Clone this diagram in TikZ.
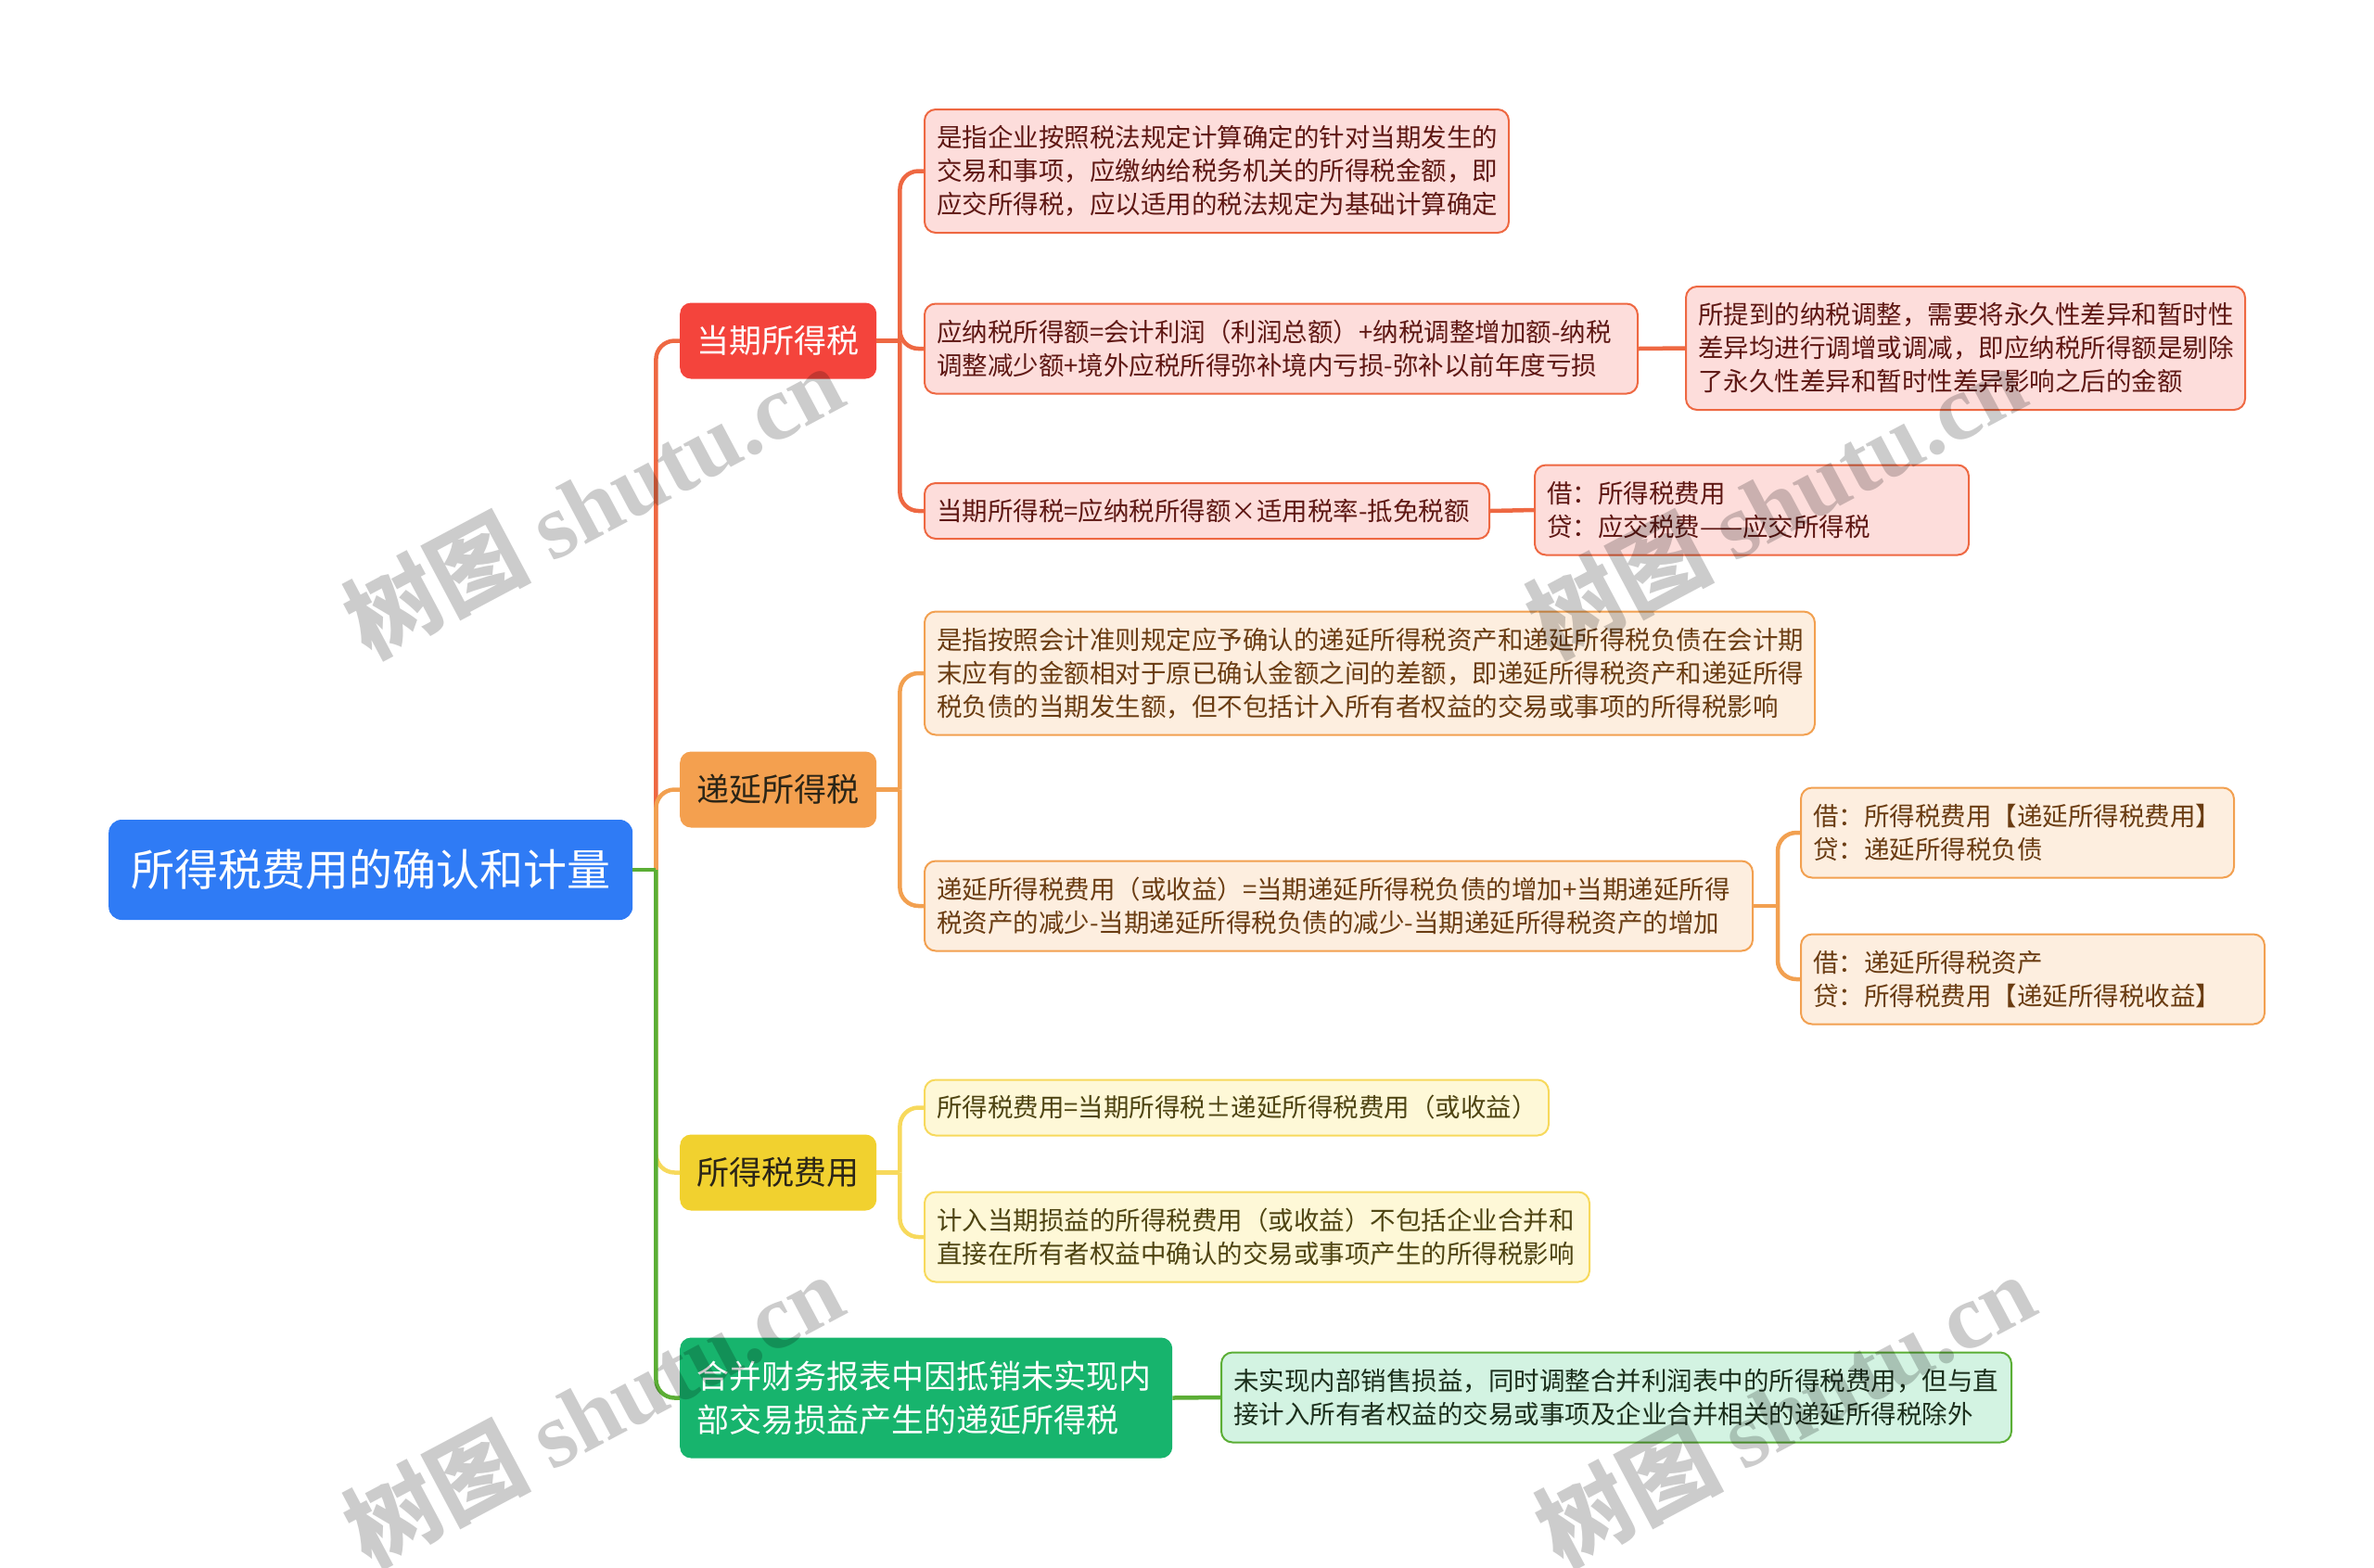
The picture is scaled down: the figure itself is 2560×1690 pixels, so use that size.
\documentclass[tikz,border=0pt]{standalone}
\usepackage{fontspec}
\setmainfont{Noto Sans CJK SC}
\newfontfamily\wmserif{Liberation Serif}
\usetikzlibrary{calc}
\definecolor{rootc}{HTML}{2F7BF5}
\definecolor{redn}{HTML}{F4443C}
\definecolor{redl}{HTML}{EE6842}
\definecolor{redf}{HTML}{FDDDDB}
\definecolor{redt}{HTML}{5E1713}
\definecolor{orn}{HTML}{F4A04F}
\definecolor{orl}{HTML}{F2A050}
\definecolor{orf}{HTML}{FDEEDF}
\definecolor{ort}{HTML}{6A3C12}
\definecolor{yen}{HTML}{F1D12F}
\definecolor{yel}{HTML}{F7D95C}
\definecolor{yef}{HTML}{FEF8D7}
\definecolor{yet}{HTML}{4E4412}
\definecolor{grn}{HTML}{17B46D}
\definecolor{grl}{HTML}{5BAE35}
\definecolor{grf}{HTML}{D3F3E2}
\definecolor{grt}{HTML}{1B2E1B}
\definecolor{ltxt}{HTML}{2B2517}
\tikzset{
  rootbox/.style={rounded corners=14pt, fill=rootc, text=white, font=\fontsize{47}{56}\selectfont,
    minimum width=565, minimum height=108, inner sep=0pt, anchor=west, align=center},
  lvone/.style={rounded corners=12pt, minimum height=82, minimum width=212, inner xsep=18pt, inner ysep=0pt,
    font=\fontsize{35}{47}\selectfont, anchor=west, align=center},
  leaf/.style={rounded corners=12pt, draw, line width=2pt, inner xsep=13pt, inner ysep=0pt, align=left,
    font=\fontsize{27.5}{36}\selectfont, anchor=west},
  ln1/.style={minimum height=60},
  ln2/.style={minimum height=97},
  ln3/.style={minimum height=133},
  redleaf/.style={leaf, fill=redf, draw=redl, text=redt},
  orleaf/.style={leaf, fill=orf, draw=orl, text=ort},
  yeleaf/.style={leaf, fill=yef, draw=yel, text=yet},
  grleaf/.style={leaf, fill=grf, draw=grl, text=grt},
  conn/.style={line width=4.5pt, rounded corners=20pt},
  wmark/.style={rotate=28, text=black, text opacity=0.2, font=\fontsize{100}{110}\selectfont\bfseries}
}
\begin{document}
\begin{tikzpicture}[x=1pt, y=-1pt]
\useasboundingbox (0,0) rectangle (2560,1690);
% root and first level
\node[rootbox] (root) at (117,938) {所得税费用的确认和计量};
\node[lvone, fill=redn, text=white] (n1) at (733,367.5) {当期所得税};
\node[lvone, fill=orn, text=ltxt] (n2) at (733,851.5) {递延所得税};
\node[lvone, fill=yen, text=ltxt] (n3) at (733,1264.5) {所得税费用};
\node[lvone, fill=grn, text=white, minimum height=130, text width=495, align=left] (n4) at (733,1507.5)
  {合并财务报表中因抵销未实现内\\部交易损益产生的递延所得税};
% second level: 当期所得税
\node[redleaf, ln3, text width=604] (a1) at (996,184.5)
  {是指企业按照税法规定计算确定的针对当期发生的\\交易和事项，应缴纳给税务机关的所得税金额，即\\应交所得税，应以适用的税法规定为基础计算确定};
\node[redleaf, ln2, text width=743] (a2) at (996,376)
  {应纳税所得额=会计利润（利润总额）+纳税调整增加额-纳税\\调整减少额+境外应税所得弥补境内亏损-弥补以前年度亏损};
\node[redleaf, ln1, text width=583] (a3) at (996,551)
  {当期所得税=应纳税所得额×适用税率-抵免税额};
\node[redleaf, ln3, text width=577] (a2c) at (1817,375.5)
  {所提到的纳税调整，需要将永久性差异和暂时性\\差异均进行调增或调减，即应纳税所得额是剔除\\了永久性差异和暂时性差异影响之后的金额};
\node[redleaf, ln2, text width=442] (a3c) at (1654,550)
  {借：所得税费用\\贷：应交税费——应交所得税};
% 递延所得税
\node[orleaf, ln3, text width=934] (b1) at (996,726)
  {是指按照会计准则规定应予确认的递延所得税资产和递延所得税负债在会计期\\末应有的金额相对于原已确认金额之间的差额，即递延所得税资产和递延所得\\税负债的当期发生额，但不包括计入所有者权益的交易或事项的所得税影响};
\node[orleaf, ln2, text width=867] (b2) at (996,977)
  {递延所得税费用（或收益）=当期递延所得税负债的增加+当期递延所得\\税资产的减少-当期递延所得税负债的减少-当期递延所得税资产的增加};
\node[orleaf, ln2, text width=441] (b2a) at (1941,898)
  {借：所得税费用【递延所得税费用】\\贷：递延所得税负债};
\node[orleaf, ln2, text width=474] (b2b) at (1941,1056)
  {借：递延所得税资产\\贷：所得税费用【递延所得税收益】};
% 所得税费用
\node[yeleaf, ln1, text width=647] (c1) at (996,1194.5)
  {所得税费用=当期所得税±递延所得税费用（或收益）};
\node[yeleaf, ln2, text width=691] (c2) at (996,1334)
  {计入当期损益的所得税费用（或收益）不包括企业合并和\\直接在所有者权益中确认的交易或事项产生的所得税影响};
% 合并
\node[grleaf, ln2, text width=826] (d1) at (1316,1507)
  {未实现内部销售损益，同时调整合并利润表中的所得税费用，但与直\\接计入所有者权益的交易或事项及企业合并相关的递延所得税除外};
% junctions
\coordinate (j0) at ($(root.east)+(25,0)$);
\coordinate (j1) at ($(n1.east)+(25,0)$);
\coordinate (j2) at ($(n2.east)+(25,0)$);
\coordinate (j3) at ($(n3.east)+(25,0)$);
\coordinate (jb) at ($(b2.east)+(26,0)$);
% trunk connectors
\draw[conn, redl] (j0) |- (n1.west);
\draw[conn, orl] (j0) |- (n2.west);
\draw[conn, yel] (j0) |- (n3.west);
\draw[conn, grl] (j0) |- (n4.west);
\draw[conn, grl] (root.east) -- (j0);
% red branch
\draw[conn, redl] (n1.east) -- (j1);
\draw[conn, redl] (j1) |- (a1.west);
\draw[conn, redl] (j1) |- (a2.west);
\draw[conn, redl] (j1) |- (a3.west);
\draw[conn, redl] (a2.east) -- (a2c.west);
\draw[conn, redl] (a3.east) -- (a3c.west);
% orange branch
\draw[conn, orl] (n2.east) -- (j2);
\draw[conn, orl] (j2) |- (b1.west);
\draw[conn, orl] (j2) |- (b2.west);
\draw[conn, orl] (b2.east) -- (jb);
\draw[conn, orl] (jb) |- (b2a.west);
\draw[conn, orl] (jb) |- (b2b.west);
% yellow branch
\draw[conn, yel] (n3.east) -- (j3);
\draw[conn, yel] (j3) |- (c1.west);
\draw[conn, yel] (j3) |- (c2.west);
% green branch
\draw[conn, grl] (n4.east) -- (d1.west);
% watermarks
\node[wmark] (w1) at (640,540) {树图 {\wmserif\bfseries shutu.cn}};
\node[wmark] (w2) at (1915,540) {树图 {\wmserif\bfseries shutu.cn}};
\node[wmark] (w3) at (640,1520) {树图 {\wmserif\bfseries shutu.cn}};
\node[wmark] (w4) at (1925,1520) {树图 {\wmserif\bfseries shutu.cn}};
\end{tikzpicture}
\end{document}
